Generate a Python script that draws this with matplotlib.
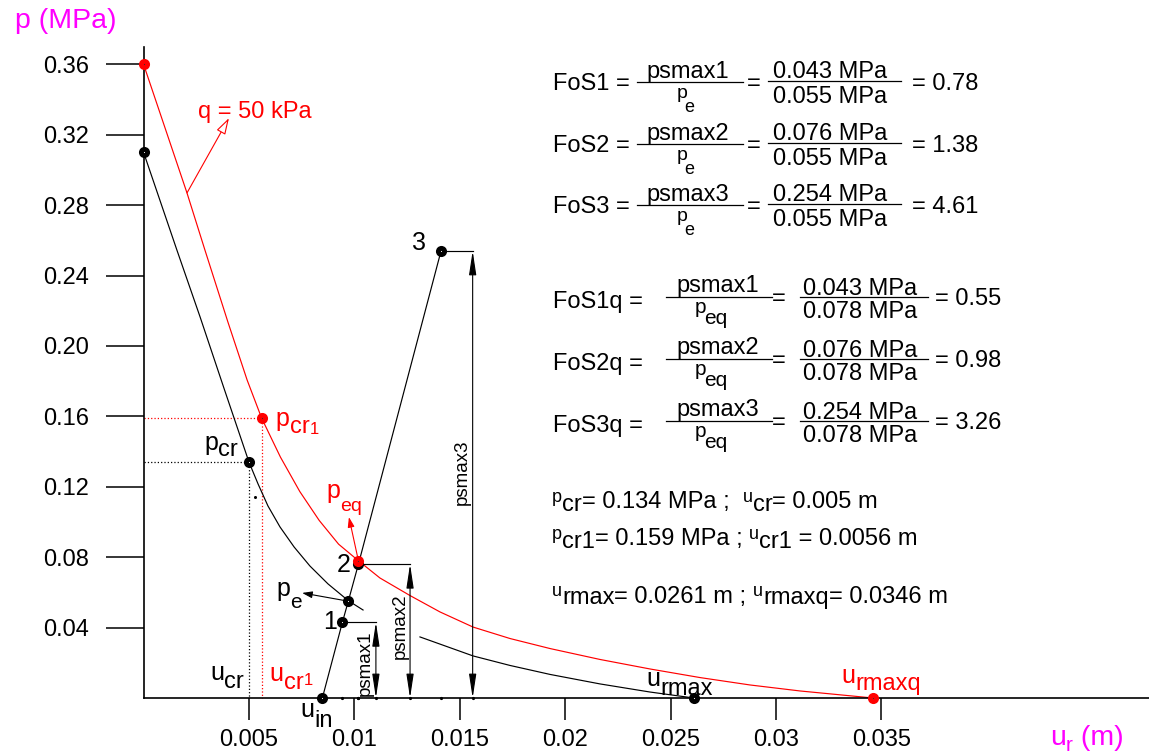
import matplotlib
matplotlib.use('Agg')
import matplotlib.pyplot as plt
from matplotlib.lines import Line2D

plt.rcParams['font.family'] = 'Liberation Sans'

# ground reaction curve without surcharge (black), broken where psmax2 sits
black_u = [0.0, 0.00158, 0.00268, 0.00381, 0.0050, 0.00543, 0.0059, 0.00647,
           0.00714, 0.00789, 0.00875, 0.00971, 0.01041]
black_p = [0.310, 0.2545, 0.2165, 0.1761, 0.134, 0.1216, 0.1091, 0.0972,
           0.0858, 0.0750, 0.0648, 0.0553, 0.0500]
black_u2 = [0.01311, 0.01563, 0.01738, 0.01928, 0.02165, 0.02402, 0.0261]
black_p2 = [0.0347, 0.0239, 0.0185, 0.0134, 0.0080, 0.0034, 0.0]

# ground reaction curve with q = 50 kPa (red)
red_u = [0.0, 0.00206, 0.00291, 0.0040, 0.00491, 0.0056, 0.00649, 0.00741,
         0.00833, 0.00925, 0.01019, 0.01121, 0.01264, 0.01406, 0.01563, 0.01738,
         0.01928, 0.02165, 0.02402, 0.0264, 0.02877, 0.03114, 0.0346]
red_p = [0.360, 0.2869, 0.2545, 0.2136, 0.1807, 0.159, 0.1369, 0.1173,
         0.1009, 0.0874, 0.078, 0.0682, 0.0582, 0.0489, 0.0403, 0.0338,
         0.0281, 0.0219, 0.0165, 0.0116, 0.0074, 0.0040, 0.0]

# support line: u_in, 1, pe, 2, 3
sup_u = [0.00848, 0.00943, 0.00971, 0.01019, 0.01411]
sup_p = [0.0, 0.043, 0.055, 0.076, 0.254]

u_cr, p_cr = 0.005, 0.134
u_cr1, p_cr1 = 0.0056, 0.159
u_eq, p_eq = 0.01019, 0.078
u_rmax, u_rmaxq = 0.0261, 0.0346

psmax = [0.043, 0.076, 0.254]
psmax_pt_u = [0.00943, 0.01019, 0.01411]
dim_u = [0.01102, 0.01264, 0.01561]
psmax_names = ['psmax1', 'psmax2', 'psmax3']

xticks = [0.005, 0.01, 0.015, 0.02, 0.025, 0.03, 0.035]
xtick_labels = ['0.005', '0.01', '0.015', '0.02', '0.025', '0.03', '0.035']
yticks = [0.04, 0.08, 0.12, 0.16, 0.20, 0.24, 0.28, 0.32, 0.36]
ytick_labels = ['0.04', '0.08', '0.12', '0.16', '0.20', '0.24', '0.28', '0.32', '0.36']

fos = ['0.78', '1.38', '4.61']
fosq = ['0.55', '0.98', '3.26']
num_txt = ['0.043 MPa', '0.076 MPa', '0.254 MPa']

W, H = 1149, 753
fig = plt.figure(figsize=(W / 100, H / 100), dpi=100)
ax = fig.add_axes([0, 0, 1, 1])
x0, sx = 143.6, 21080.0
y0, sy = 698.0, 1760.0
ax.set_xlim(-x0 / sx, (W - x0) / sx)
ax.set_ylim(-(H - y0) / sy, y0 / sy)
ax.patch.set_alpha(0)

for s in ['top', 'right']:
    ax.spines[s].set_visible(False)
ax.spines['left'].set_position(('data', 0))
ax.spines['bottom'].set_position(('data', 0))
ax.spines['left'].set_bounds(0, (y0 - 47) / sy)
ax.spines['bottom'].set_bounds(0, (W - x0) / sx)
for s in ['left', 'bottom']:
    ax.spines[s].set_linewidth(1.2)

ax.set_xticks(xticks, xtick_labels)
ax.set_yticks(yticks, ytick_labels)
ax.tick_params(axis='y', direction='out', length=27.5, width=1.1, pad=12, labelsize=17)
ax.tick_params(axis='x', direction='out', length=16, width=1.1, pad=6, labelsize=17)
for tk, v in zip(ax.yaxis.get_major_ticks(), yticks):
    if v in (0.32, 0.04):
        tk.tick1line.set_color('0.45')
for tk, v in zip(ax.xaxis.get_major_ticks(), xticks):
    if v in (0.005, 0.015, 0.025, 0.035):
        tk.tick1line.set_color('0.45')

lw = 0.85
ax.plot([0, u_cr, u_cr], [p_cr, p_cr, 0], ':', color='black', lw=0.9)
ax.plot([0, u_cr1, u_cr1], [p_cr1, p_cr1, 0], ':', color='red', lw=0.9)

ax.plot(black_u, black_p, color='black', lw=lw)
ax.plot(black_u2, black_p2, color='black', lw=lw)
ax.plot(sup_u, sup_p, color='black', lw=lw)
ax.plot(red_u, red_p, color='red', lw=lw)

# psmax dimension lines
arr = dict(arrowstyle='<|-|>,head_length=1.45,head_width=0.22', color='black',
           lw=0.8, shrinkA=0, shrinkB=0)
for pu, du, ps in zip(psmax_pt_u, dim_u, psmax):
    ax.plot([pu, du], [ps, ps], color='black', lw=lw)
    ax.annotate('', xy=(du, 0), xytext=(du, ps), arrowprops=arr)
    ax.plot([pu, du], [0, 0], 'o', color='black', ms=2.3, mew=0)
ax.plot([u_eq], [0], 'o', color='black', ms=2.3, mew=0)
ax.plot([0.0053], [0.114], 'o', color='black', ms=2.2, mew=0)

ax.text(dim_u[0] - 11 / sx, psmax[0] / 2 - 3 / sy, psmax_names[0], rotation=90,
        ha='center', va='center', fontsize=13.5)
ax.text(dim_u[1] - 10 / sx, psmax[1] / 2 + 5 / sy, psmax_names[1], rotation=90,
        ha='center', va='center', fontsize=13.5)
ax.text(dim_u[2] - 10 / sx, 0.128, psmax_names[2], rotation=90,
        ha='center', va='center', fontsize=13.5)

# points
blk_pts_u = [0.0, u_cr, sup_u[0], sup_u[1], sup_u[2], sup_u[3], sup_u[4], u_rmax]
blk_pts_p = [black_p[0], p_cr, 0.0, sup_p[1], sup_p[2], sup_p[3], sup_p[4], 0.0]
ax.plot(blk_pts_u, blk_pts_p, 'o', color='black', ms=8, mew=0, zorder=5)
ax.plot(blk_pts_u, blk_pts_p, 'o', color='white', ms=0.8, mew=0, zorder=6)
red_pts_u = [0.0, u_cr1, u_eq, u_rmaxq]
red_pts_p = [red_p[0], p_cr1, p_eq, 0.0]
ax.plot(red_pts_u, red_pts_p, 'o', color='red', ms=8, mew=0, zorder=7)
ax.plot(red_pts_u, red_pts_p, 'o', color='0.2', ms=0.8, mew=0, zorder=8)

k = 0.72  # px -> pt


def chain(x, y, parts, color='black'):
    # parts: (text, drop_px, fontsize, gap_px); x, y = baseline start in figure pixels
    prev = None
    for txt, drop, fs, gap in parts:
        if prev is None:
            prev = ax.annotate(txt, xy=(x + gap, y - drop), xycoords='figure pixels',
                               ha='left', va='baseline', fontsize=fs, color=color)
        else:
            prev = ax.annotate(txt, xy=(1, y), xycoords=(prev, 'figure pixels'),
                               xytext=(gap * k, -drop * k), textcoords='offset points',
                               ha='left', va='baseline', fontsize=fs, color=color)
    return prev


def lab(parts, xy, dx, dy, color='black'):
    px, py = ax.transData.transform(xy)
    chain(px + dx, py + dy, parts, color)


def tp(x, ytop, parts, color='black'):
    chain(x, H - ytop, parts, color)


lab([('3', 0, 18, 0)], (sup_u[4], sup_p[4]), -29, 1)
lab([('2', 0, 18, 0)], (sup_u[3], sup_p[3]), -22, -8)
lab([('1', 0, 18, 0)], (sup_u[1], sup_p[1]), -19, -7)
lab([('p', 0, 18, 0), ('e', 12, 15, 0)], (sup_u[2], sup_p[2]), -72, 5)
lab([('p', 0, 18, 0), ('cr', 6, 17, 0)], (u_cr, p_cr), -45, 12)
lab([('p', 0, 18, 0), ('cr', 7, 17, 0), ('1', 8, 12, 0)], (u_cr1, p_cr1), 14, -8, 'red')
lab([('p', 0, 18, 0), ('eq', 13, 14, 0)], (u_eq, p_eq), -32, 63, 'red')
lab([('u', 0, 18, 0), ('cr', 8, 17, 0)], (u_cr, 0), -39, 18)
lab([('u', 0, 18, 0), ('cr', 8, 17, 0), ('1', 4, 12, 0)], (u_cr1, 0), 8, 17, 'red')
lab([('u', 0, 18, 0), ('in', 10, 17, 0)], (sup_u[0], 0), -22, -19)
lab([('u', 0, 18, 0), ('rmax', 9, 17, 0)], (u_rmax, 0), -47, 12)
lab([('u', 0, 18, 0), ('rmaxq', 7, 17, 0)], (u_rmaxq, 0), -32, 15, 'red')

# leader arrows
ax.annotate('', xy=(0.00752, 0.0597), xytext=(sup_u[2], sup_p[2]),
            arrowprops=dict(arrowstyle='-|>,head_length=0.6,head_width=0.2',
                            color='black', lw=0.8, shrinkA=0, shrinkB=0))
ax.annotate('', xy=(0.00974, 0.1028), xytext=(u_eq, p_eq),
            arrowprops=dict(arrowstyle='-|>,head_length=0.6,head_width=0.2',
                            color='red', lw=0.8, shrinkA=0, shrinkB=0))
ax.annotate('', xy=(0.00405, 0.3295), xytext=(0.00206, 0.287),
            arrowprops=dict(arrowstyle='-|>,head_length=1.0,head_width=0.3',
                            fc='white', ec='red', lw=0.8, shrinkA=0, shrinkB=0))
ax.text(0.00256, 0.3295, 'q = 50 kPa', color='red', fontsize=17,
        ha='left', va='baseline')

# axis titles
mag = '#ff00ff'
tp(15, 28, [('p (MPa)', 0, 20.5, 0)], mag)
tp(1050, 745, [('u', 0, 20.5, 0), ('r', 6, 15, 0), (' (m)', 0, 20.5, 0)], mag)


# right-hand text block
def t(x, y, s, ha='left', fs=17):
    fig.text(x / W, 1 - y / H, s, ha=ha, va='baseline', fontsize=fs)


def hline(xa, xb, y):
    fig.add_artist(Line2D([xa / W, xb / W], [1 - y / H, 1 - y / H], color='black', lw=0.9))


for i, b in enumerate([90, 152, 213]):
    t(553, b, 'FoS%d =' % (i + 1))
    hline(637, 743, b - 8)
    t(688, b - 12, psmax_names[i], ha='center')
    tp(677, b + 8, [('p', 0, 14, 0), ('e', 14, 13, -4)])
    t(754, b, '=', ha='center')
    hline(768, 901, b - 9)
    t(830, b - 12, num_txt[i], ha='center')
    t(830, b + 13, '0.055 MPa', ha='center')
    t(912, b, '= ' + fos[i])

for i, b in enumerate([308, 370, 432]):
    t(553, b, 'FoS%dq =' % (i + 1))
    hline(666, 772, b - 11)
    t(718, b - 16, psmax_names[i], ha='center')
    tp(695, b + 5, [('p', 0, 15, 0), ('eq', 11, 15, -2)])
    t(779, b - 3, '=', ha='center')
    hline(800, 928, b - 11)
    t(860, b - 13, num_txt[i], ha='center')
    t(860, b + 10, '0.078 MPa', ha='center')
    t(935, b - 3, '= ' + fosq[i])

tp(552, 508, [('p', -6, 13, 0), ('cr', 3, 17, 0), ('= 0.134 MPa ;  ', 0, 17, 0),
              ('u', -6, 13, 0), ('cr', 3, 17, 0), ('= 0.005 m', 0, 17, 0)])
tp(552, 545, [('p', -6, 13, 0), ('cr1', 3, 17, 0), ('= 0.159 MPa ; ', 0, 17, 0),
              ('u', -6, 13, 0), ('cr1', 3, 17, 0), (' = 0.0056 m', 0, 17, 0)])
tp(552, 603, [('u', -7, 13, 0), ('rmax', 1, 17, 0), ('= 0.0261 m ; ', 0, 17, 0),
              ('u', -7, 13, 0), ('rmaxq', 1, 17, 0), ('= 0.0346 m', 0, 17, 0)])

fig.savefig('out.png', dpi=100, facecolor='white')
